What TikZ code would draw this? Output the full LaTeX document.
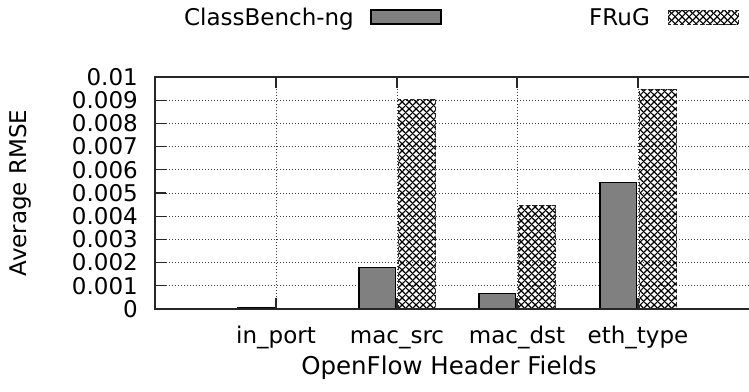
\documentclass[tikz,border=0pt]{standalone}
\usepackage{fontspec}
\setmainfont{DejaVu Sans}
\usetikzlibrary{patterns.meta}

% diagonal cross-hatch used for the FRuG bars
\pgfdeclarepattern{
  name=diamondhatch,
  type=uncolored,
  bottom left={\pgfpoint{0pt}{0pt}},
  top right={\pgfpoint{7pt}{7pt}},
  tile size={\pgfpoint{7pt}{7pt}},
  code={
    \pgfsetlinewidth{1.3pt}
    \pgfpathmoveto{\pgfpoint{-1pt}{-1pt}}\pgfpathlineto{\pgfpoint{8pt}{8pt}}
    \pgfpathmoveto{\pgfpoint{-1pt}{8pt}}\pgfpathlineto{\pgfpoint{8pt}{-1pt}}
    \pgfusepath{stroke}
  }
}

\begin{document}
\begin{tikzpicture}[x=1pt, y=-1pt,
  lbl/.style={font=\fontsize{23}{27}\selectfont, inner sep=0pt},
  titlelbl/.style={font=\fontsize{24.5}{29}\selectfont, inner sep=0pt},
  gridline/.style={line width=0.8pt, dash pattern=on 1pt off 2pt, black!75},
  frame/.style={line width=1.4pt, black!85},
  tickmark/.style={line width=1.2pt, black!85},
  cbbar/.style={fill=black!50, draw=black, line width=1.1pt},
  frbar/.style={pattern=diamondhatch, pattern color=black, draw=black!85,
                line width=1pt, dash pattern=on 4pt off 2.5pt},
]
\useasboundingbox (0,0) rectangle (749,391);

% plot area: x in pixels, y in units of 0.001 upwards from the bottom axis
\begin{scope}[shift={(0,309)}, y=23.2pt]
  % horizontal grid, y ticks and labels
  \foreach \v/\t in {0/0, 1/0.001, 2/0.002, 3/0.003, 4/0.004, 5/0.005,
                     6/0.006, 7/0.007, 8/0.008, 9/0.009, 10/0.01} {
    \ifnum\v>0 \ifnum\v<10
      \draw[gridline] (166,\v) -- (749,\v);
    \fi\fi
    \draw[tickmark] (155,\v) -- (166,\v);
    \node[lbl, anchor=east] (ytick\v) at (138,\v) {\t};
  }
  % vertical grid and x ticks
  \foreach \c in {276, 397, 517, 638} {
    \draw[gridline] (\c,0) -- (\c,10);
    \draw[tickmark] (\c,10) -- ++(0,-11pt);
    \draw[tickmark] (\c,0) -- ++(0,11pt);
  }
  % bars: ClassBench-ng (grey) and FRuG (hatched)
  \foreach \c/\g/\f in {276/0.08/0.04, 397/1.77/9.03, 517/0.68/4.44, 638/5.46/9.44} {
    \draw[cbbar] (\c-38,0) rectangle (\c-1.5,\g);
    \draw[frbar] (\c+1.5,0) rectangle (\c+38.5,\f);
  }
  % axes frame
  \draw[frame] (749,10) -- (155,10) -- (155,0) -- (749,0);
\end{scope}

% category labels
\node[lbl, anchor=base] (cat1) at (276,343) {in\_port};
\node[lbl, anchor=base] (cat2) at (397,343) {mac\_src};
\node[lbl, anchor=base] (cat3) at (517,343) {mac\_dst};
\node[lbl, anchor=base] (cat4) at (638,343) {eth\_type};

% axis titles
\node[titlelbl, anchor=base] (xtitle) at (449,374) {OpenFlow Header Fields};
\node[lbl, rotate=90] (ytitle) at (20,193) {Average RMSE};

% legend
\node[lbl, anchor=base east] (leg1) at (354,25) {ClassBench-ng};
\draw[cbbar] (371,10) rectangle (441,24);
\node[lbl, anchor=base east] (leg2) at (650,25) {FRuG};
\draw[frbar] (668,10) rectangle (738,24);
\end{tikzpicture}
\end{document}
